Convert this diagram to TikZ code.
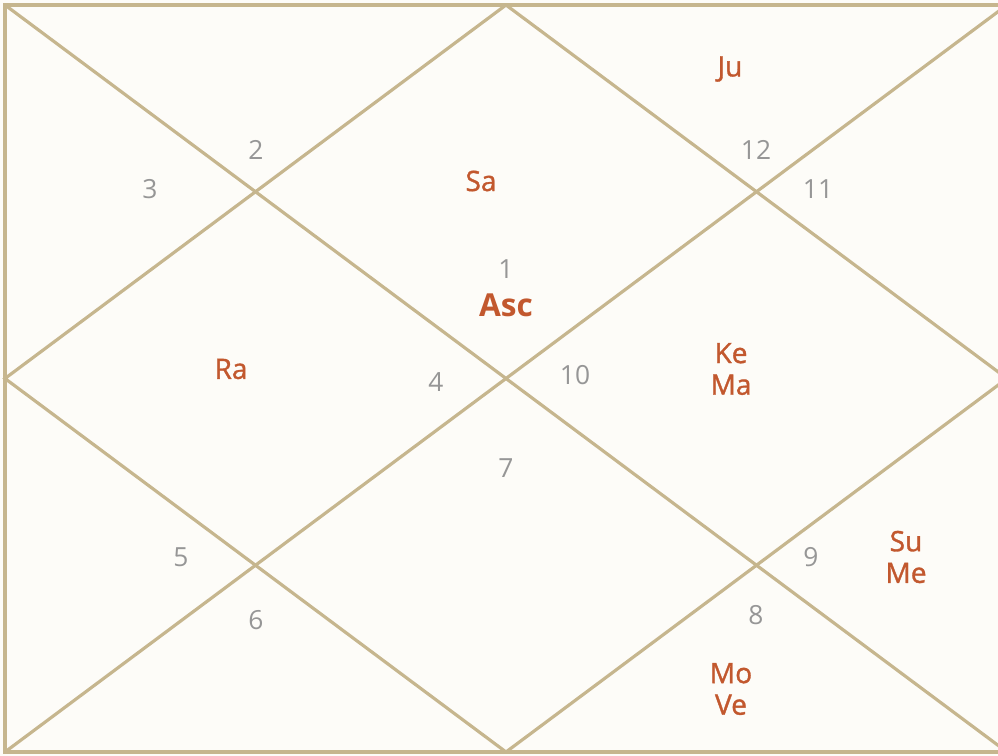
\documentclass[tikz,border=0pt]{standalone}
\usepackage{fontspec}
\setmainfont{Open Sans}
\newfontfamily\planetfont[FakeBold=1.2]{Open Sans}
\definecolor{chartbg}  {RGB}{253, 252, 248}
\definecolor{chartline}{RGB}{198, 182, 142}
\definecolor{planetred}{RGB}{194, 88,  46}
\definecolor{housegray}{RGB}{150, 150, 150}

\begin{document}
\begin{tikzpicture}[
  x=0.02cm, y=-0.02cm,
  chartstroke/.style={chartline, line width=1.8pt},
  housenum/.style={housegray, font=\fontsize{15}{17}\selectfont},
  planet/.style={planetred, font=\planetfont\fontsize{16}{18}\selectfont, align=center},
  lagna/.style={planetred, font=\bfseries\fontsize{18}{20}\selectfont},
]

%% ─── 座標系 ────────────────────────────────────────────────
%%  横軸: x ∈ [0, 998] px,  縦軸: y ∈ [0, 756] px (下向き)
%%  枠: (5,5) -- (1007,752),  中心 (506,378.5)

% ── 背景と切り抜き ──────────────────────────────────────────
\useasboundingbox (0,0) rectangle (998,756);
\clip (0,0) rectangle (998,756);
\fill[chartbg] (0,0) rectangle (998,756);

% ── 枠の角と辺の中点 ────────────────────────────────────────
\coordinate (tl) at (5,5);
\coordinate (tr) at (1007,5);
\coordinate (br) at (1007,752);
\coordinate (bl) at (5,752);
\coordinate (tm) at (506,5);
\coordinate (rm) at (1007,378.5);
\coordinate (bm) at (506,752);
\coordinate (lm) at (5,378.5);

% ── 外枠 ────────────────────────────────────────────────────
\draw[chartstroke] (tl) -- (tr) -- (br) -- (bl) -- cycle;

% ── 対角線 ──────────────────────────────────────────────────
\draw[chartstroke] (tl) -- (br);
\draw[chartstroke] (tr) -- (bl);

% ── 中点を結ぶ菱形 ──────────────────────────────────────────
\draw[chartstroke] (tm) -- (rm) -- (bm) -- (lm) -- cycle;


% ════════════════════════════════════════════════════════════
%  ハウス番号
% ════════════════════════════════════════════════════════════
\node[housenum] (h1)  at (506,269) {1};
\node[housenum] (h2)  at (256,150) {2};
\node[housenum] (h3)  at (150,189) {3};
\node[housenum] (h4)  at (436,382) {4};
\node[housenum] (h5)  at (181,557) {5};
\node[housenum] (h6)  at (256,620) {6};
\node[housenum] (h7)  at (506,468) {7};
\node[housenum] (h8)  at (756,615) {8};
\node[housenum] (h9)  at (811,557) {9};
\node[housenum] (h10) at (575,375) {10};
\node[housenum] (h11) at (818,189) {11};
\node[housenum] (h12) at (756,150) {12};


% ════════════════════════════════════════════════════════════
%  惑星
% ════════════════════════════════════════════════════════════
\node[lagna]  (asc)  at (506,305) {Asc};
\node[planet] (sa)   at (481,181) {Sa};
\node[planet] (ju)   at (730,69)  {Ju};
\node[planet] (ra)   at (231,369) {Ra};
\node[planet] (kema) at (731,369) {Ke\\Ma};
\node[planet] (sume) at (906,557) {Su\\Me};
\node[planet] (move) at (731,689) {Mo\\Ve};

\end{tikzpicture}
\end{document}
